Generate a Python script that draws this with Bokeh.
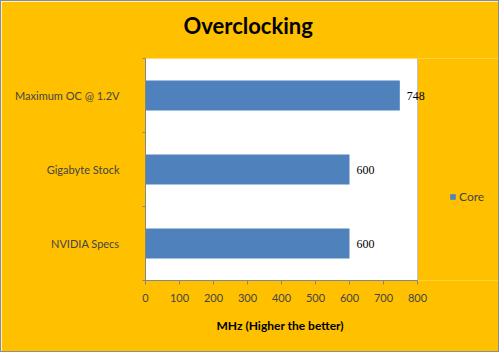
from bokeh.plotting import figure
from bokeh.models import (Range1d, FixedTicker, Legend, LegendItem, ColumnDataSource,
                          LabelSet, BoxAnnotation, Title)
from bokeh.embed import file_html
from bokeh.resources import INLINE

categories = ["NVIDIA Specs", "Gigabyte Stock", "Maximum OC @ 1.2V"]
core_mhz = [600, 600, 748]
x_ticks = [0, 100, 200, 300, 400, 500, 600, 700, 800]
series_name = "Core"

ypos = [i + 0.5 for i in range(len(categories))]
src = ColumnDataSource(dict(y=ypos, v=core_mhz, lab=[str(v) for v in core_mhz]))

BG = "#FFC000"
GRID = "#868686"
FONT = "Lato"

# plot area spans pixels 144..416 for 0..800; frame extends to the right edge
x_min, x_max = x_ticks[0], x_ticks[-1]
frame_right_end = x_max * (498 - 144) / (416 - 144)

p = figure(width=499, height=352, output_backend="svg", toolbar_location=None,
           x_range=Range1d(x_min, frame_right_end), y_range=Range1d(0, len(categories)),
           min_border_left=144, min_border_right=1, min_border_top=57,
           min_border_bottom=73)
p.background_fill_color = BG
p.border_fill_color = BG
p.outline_line_color = None
p.styles = {"border": "1px solid #8c8c8c", "box-sizing": "border-box"}

p.add_layout(BoxAnnotation(left=x_min, right=x_max, fill_color="white", fill_alpha=1,
                           line_color=None, level="underlay"))

p.title.text = ""
spacer = Title(text=" ", text_font_size="1px", standoff=4)
p.add_layout(spacer, "above")
main_title = Title(text="Overclocking", align="left", offset=38, vertical_align="top",
                   text_font=FONT, text_font_size="22px", text_font_style="bold",
                   text_color="black", standoff=21)
p.add_layout(main_title, "above")

r = p.hbar(y="y", right="v", left=0, height=0.405, source=src,
           fill_color="#4F81BD", line_color=None)

labels = LabelSet(x="v", y="y", text="lab", source=src, x_offset=7,
                  text_baseline="middle", text_font=FONT, text_font_size="12px",
                  text_color="black")
p.add_layout(labels)

# x axis
xa = p.xaxis[0]
xa.ticker = FixedTicker(ticks=x_ticks)
xa.bounds = (x_min, x_max)
xa.major_label_text_font = FONT
xa.major_label_text_font_size = "11px"
xa.major_label_standoff = 9
xa.axis_line_color = GRID
xa.major_tick_line_color = GRID
xa.major_tick_out = 4
xa.major_tick_in = 0
xa.minor_tick_line_color = None

xlabel = Title(text="MHz (Higher the better)", align="left", offset=71,
               text_font=FONT, text_font_size="12px", text_font_style="bold",
               text_color="black", standoff=23)
p.add_layout(xlabel, "below")

# y axis
ya = p.yaxis[0]
ya.ticker = FixedTicker(ticks=ypos, minor_ticks=list(range(len(categories) + 1)))
ya.major_label_overrides = {y: c for y, c in zip(ypos, categories)}
ya.major_label_text_font = FONT
ya.major_label_text_font_size = "11px"
ya.major_label_standoff = 23
ya.major_tick_out = 0
ya.major_tick_in = 0
ya.minor_tick_out = 3
ya.minor_tick_in = 0
ya.minor_tick_line_color = GRID
ya.axis_line_color = GRID

p.xgrid.ticker = FixedTicker(ticks=x_ticks[1:])
p.xgrid.grid_line_color = GRID
p.ygrid.grid_line_color = None

legend = Legend(items=[LegendItem(label=series_name, renderers=[r])],
                location=(304, 76), padding=0, margin=0, glyph_width=7,
                glyph_height=7, label_standoff=3, label_text_font=FONT,
                label_text_font_size="12px", background_fill_alpha=0,
                border_line_alpha=0)
p.add_layout(legend)

open("out.html", "w").write(file_html(p, INLINE))
